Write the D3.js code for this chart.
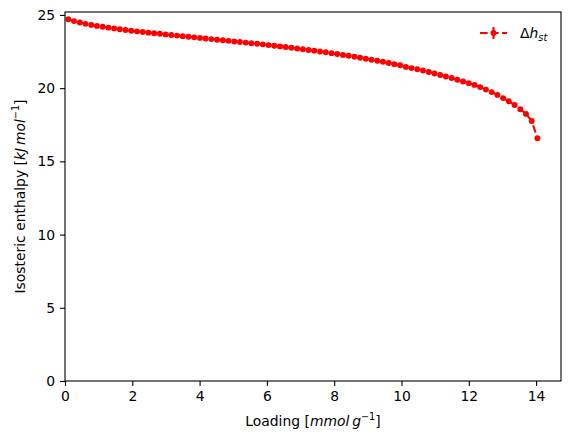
<!DOCTYPE html>
<html><head><meta charset="utf-8">
<script src="https://cdn.jsdelivr.net/npm/d3@7"></script>
<style>
body{margin:0;background:#fff;}
text{font-family:"DejaVu Sans",sans-serif;}
</style></head>
<body><svg id="c" width="570" height="442"></svg>
<script>
const loading = [0.10,0.27,0.44,0.61,0.78,0.95,1.12,1.29,1.46,1.63,1.80,1.97,2.14,2.31,2.48,2.65,2.82,2.99,3.16,3.33,3.50,3.67,3.84,4.01,4.18,4.35,4.52,4.69,4.86,5.03,5.20,5.37,5.54,5.71,5.88,6.05,6.22,6.39,6.56,6.73,6.90,7.07,7.24,7.41,7.58,7.75,7.92,8.09,8.26,8.43,8.60,8.77,8.94,9.11,9.28,9.45,9.62,9.79,9.96,10.13,10.30,10.47,10.64,10.81,10.98,11.15,11.32,11.49,11.66,11.83,12.00,12.17,12.34,12.51,12.68,12.85,13.02,13.19,13.36,13.53,13.70,13.87,14.04];
const enthalpy = [24.70,24.58,24.48,24.39,24.32,24.25,24.19,24.13,24.08,24.02,23.97,23.92,23.88,23.83,23.79,23.75,23.71,23.67,23.63,23.59,23.55,23.51,23.47,23.43,23.39,23.35,23.31,23.27,23.23,23.19,23.15,23.11,23.07,23.03,22.99,22.94,22.90,22.85,22.81,22.76,22.71,22.66,22.61,22.56,22.50,22.45,22.39,22.33,22.27,22.21,22.15,22.08,22.01,21.94,21.87,21.80,21.72,21.64,21.56,21.45,21.37,21.29,21.20,21.10,21.00,20.90,20.80,20.69,20.57,20.45,20.34,20.22,20.07,19.90,19.73,19.54,19.32,19.10,18.85,18.56,18.24,17.76,16.58];
const xTicks = [0,2,4,6,8,10,12,14];
const yTicks = [0,5,10,15,20,25];

const svg = d3.select("#c");
const L=65, R=561, T=12, B=381;
const x = d3.scaleLinear().domain([0, 14.74]).range([L, R]);
const y = d3.scaleLinear().domain([0, 25.2]).range([B, T]);
const fs = 13.9;

const data = loading.map((v,i)=>({x:v,y:enthalpy[i]}));

// line
svg.append("path").datum(data)
  .attr("d", d3.line().x(d=>x(d.x)).y(d=>y(d.y)))
  .attr("fill","none").attr("stroke","red").attr("stroke-width",2.08)
  .attr("stroke-dasharray","7.7,3.33");
svg.selectAll("circle.pt").data(data).enter().append("circle")
  .attr("class","pt").attr("cx",d=>x(d.x)).attr("cy",d=>y(d.y)).attr("r",2.95).attr("fill","red");

// axes
const xa = svg.append("g").attr("transform",`translate(0,${B})`)
  .call(d3.axisBottom(x).tickValues(xTicks).tickSize(4.9).tickPadding(4.9).tickFormat(d3.format("d")));
const ya = svg.append("g").attr("transform",`translate(${L},0)`)
  .call(d3.axisLeft(y).tickValues(yTicks).tickSize(4.9).tickPadding(4.9).tickFormat(d3.format("d")));
[xa,ya].forEach(g=>{
  g.select(".domain").remove();
  g.selectAll("line").attr("stroke","#000").attr("stroke-width",1.1);
  g.selectAll("text").attr("font-size",fs).attr("fill","#000").attr("font-family","DejaVu Sans");
});
// frame
svg.append("rect").attr("x",L).attr("y",T).attr("width",R-L).attr("height",B-T)
  .attr("fill","none").attr("stroke","#000").attr("stroke-width",1.1);

// x label
const xl = svg.append("text").attr("x",(L+R)/2).attr("y",426).attr("text-anchor","middle").attr("font-size",fs);
xl.append("tspan").text("Loading [");
xl.append("tspan").attr("font-style","italic").text("mmol");
xl.append("tspan").text("\u2009");
xl.append("tspan").attr("font-style","italic").text("g");
xl.append("tspan").attr("font-size",fs*0.7).attr("dy",-6).text("\u22121");
xl.append("tspan").attr("dy",6).text("]");

// y label
const yl = svg.append("text").attr("transform",`translate(25,${(T+B)/2}) rotate(-90)`).attr("text-anchor","middle").attr("font-size",fs);
yl.append("tspan").text("Isosteric enthalpy [");
yl.append("tspan").attr("font-style","italic").text("kJ");
yl.append("tspan").text("\u2009");
yl.append("tspan").attr("font-style","italic").text("mol");
yl.append("tspan").attr("font-size",fs*0.7).attr("dy",-6).text("\u22121");
yl.append("tspan").attr("dy",6).text("]");

// legend
const ly = 33;
svg.append("line").attr("x1",480).attr("x2",507).attr("y1",ly).attr("y2",ly)
  .attr("stroke","red").attr("stroke-width",2.08).attr("stroke-dasharray","7.7,3.33");
svg.append("line").attr("x1",493.5).attr("x2",493.5).attr("y1",27).attr("y2",39)
  .attr("stroke","red").attr("stroke-width",2.08);
svg.append("circle").attr("cx",493.5).attr("cy",ly).attr("r",2.95).attr("fill","red");
const lt = svg.append("text").attr("x",520).attr("y",ly+5).attr("font-size",fs);
lt.append("tspan").text("\u0394");
lt.append("tspan").attr("font-style","italic").text("h");
lt.append("tspan").attr("font-style","italic").attr("font-size",fs*0.7).attr("dy",3).text("st");
</script></body></html>
